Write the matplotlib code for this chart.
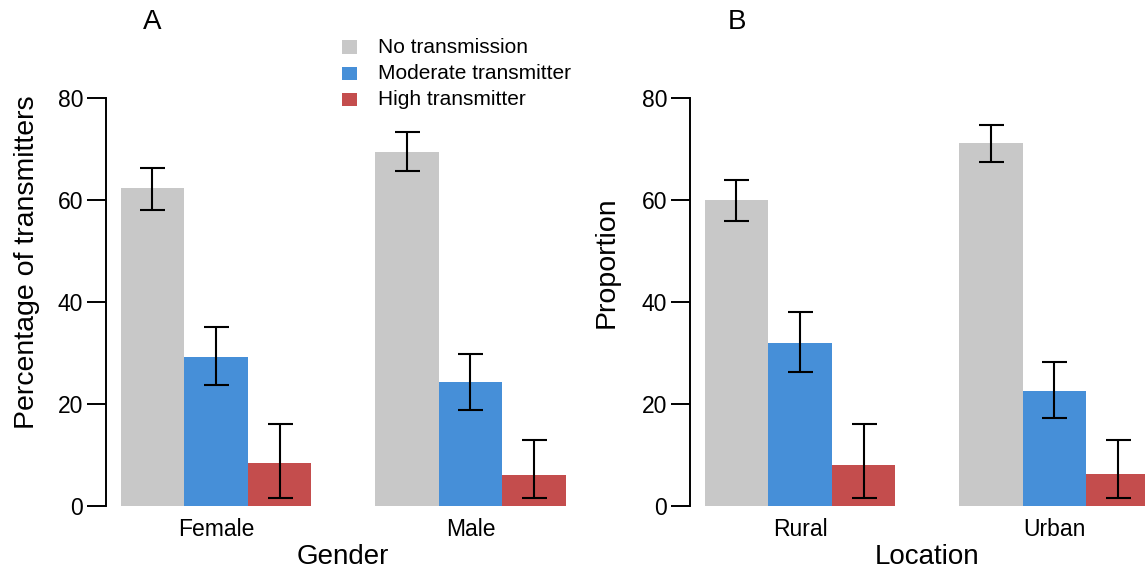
import matplotlib
matplotlib.use("Agg")
import matplotlib.pyplot as plt
from matplotlib.patches import Rectangle
import numpy as np

plt.rcParams["font.family"] = ["Liberation Sans", "DejaVu Sans"]

series = ["No transmission", "Moderate transmitter", "High transmitter"]
colors = ["#C8C8C8", "#468FD8", "#C44D4D"]

gender_groups = ["Female", "Male"]
gender_none = [62.3, 69.5]
gender_none_lo = [58.0, 65.7]
gender_none_hi = [66.3, 73.3]
gender_moderate = [29.3, 24.3]
gender_moderate_lo = [23.7, 18.8]
gender_moderate_hi = [35.0, 29.8]
gender_high = [8.4, 6.1]
gender_high_lo = [1.6, 1.6]
gender_high_hi = [16.1, 12.9]

location_groups = ["Rural", "Urban"]
location_none = [60.0, 71.1]
location_none_lo = [55.9, 67.4]
location_none_hi = [64.0, 74.8]
location_moderate = [31.9, 22.6]
location_moderate_lo = [26.2, 17.3]
location_moderate_hi = [38.0, 28.2]
location_high = [8.0, 6.2]
location_high_lo = [1.6, 1.6]
location_high_hi = [16.1, 12.9]

yticks = [0, 20, 40, 60, 80]

W, H = 1145, 574
fig = plt.figure(figsize=(W / 100, H / 100), dpi=100)


def px_axes(left, right, top, bottom):
    return fig.add_axes([left / W, (H - bottom) / H, (right - left) / W, (bottom - top) / H])


def panel(ax, groups, means, los, his, xlabel, ylabel, ylabel_x, letter, letter_x):
    n_series = len(means)
    starts = [1 + g * (n_series + 1) for g in range(len(groups))]
    for s in range(n_series):
        xs = np.array([st + s + 0.5 for st in starts])
        m = np.array(means[s])
        lo = np.array(los[s])
        hi = np.array(his[s])
        ax.bar(xs, m, width=1.0, color=colors[s], edgecolor="none", zorder=2)
        ax.errorbar(xs, m, yerr=[m - lo, hi - m], fmt="none", ecolor="black",
                    elinewidth=1.5, capsize=9, capthick=1.5, zorder=3)
    ax.set_xlim(0.77, 8.23)
    ax.set_ylim(-3.2, 83.2)
    for side in ("top", "right", "bottom"):
        ax.spines[side].set_visible(False)
    ax.spines["left"].set_bounds(0, 80)
    ax.spines["left"].set_linewidth(1.4)
    ax.set_yticks(yticks)
    ax.set_yticklabels([str(t) for t in yticks])
    ax.tick_params(axis="y", length=13.5, width=1.4, pad=3, labelsize=16.5)
    ax.set_xticks([st + n_series / 2 for st in starts])
    ax.set_xticklabels(groups)
    ax.tick_params(axis="x", length=0, pad=-3, labelsize=16.5)
    ax.patch.set_visible(False)
    bb = ax.get_position()
    cx = (bb.x0 + bb.x1) / 2
    fig.text(cx, (H - 557) / H, xlabel, ha="center", va="center", fontsize=20)
    fig.text(ylabel_x / W, (H - 262) / H, ylabel, ha="center", va="center",
             rotation=90, fontsize=20.5)
    fig.text(letter_x / W, (H - 22) / H, letter, ha="center", va="center", fontsize=20)


axA = px_axes(106, 580.5, 81.7, 522.3)
panel(axA, gender_groups,
      [gender_none, gender_moderate, gender_high],
      [gender_none_lo, gender_moderate_lo, gender_high_lo],
      [gender_none_hi, gender_moderate_hi, gender_high_hi],
      "Gender", "Percentage of transmitters", 27, "A", 152.5)

axB = px_axes(690, 1164.5, 81.7, 522.3)
panel(axB, location_groups,
      [location_none, location_moderate, location_high],
      [location_none_lo, location_moderate_lo, location_high_lo],
      [location_none_hi, location_moderate_hi, location_high_hi],
      "Location", "Proportion", 607, "B", 737)

# Legend: coloured squares with labels at the top of the figure
for i, (name, col) in enumerate(zip(series, colors)):
    yc = 47.3 + 26 * i
    fig.patches.append(Rectangle((341.7 / W, (H - yc - 6.8) / H), 15.6 / W, 13.6 / H,
                                 transform=fig.transFigure, facecolor=col,
                                 edgecolor="none"))
    fig.text(378 / W, (H - yc) / H, name, ha="left", va="center", fontsize=15)

fig.savefig("out.png", dpi=100)
